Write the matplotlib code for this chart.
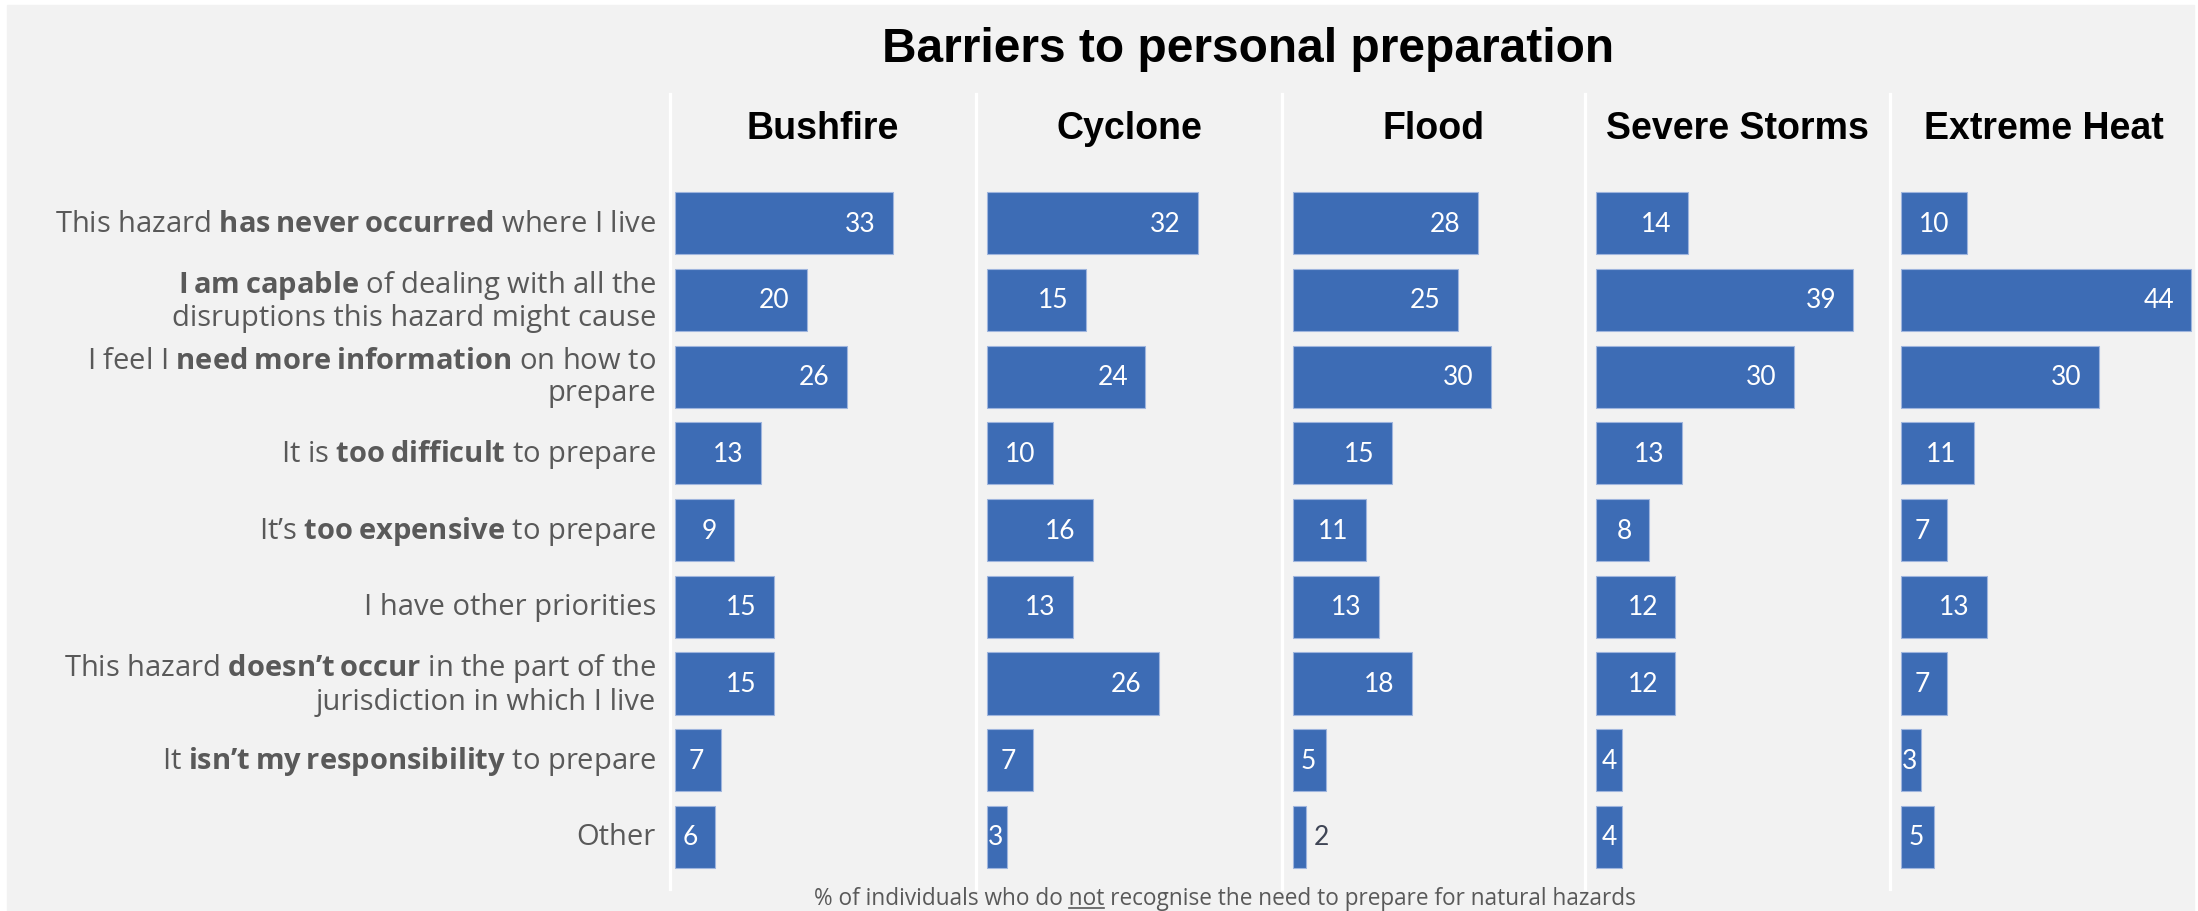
import matplotlib
matplotlib.use("Agg")
import matplotlib.pyplot as plt
from matplotlib.patches import Rectangle
from matplotlib.lines import Line2D

LABEL_FONT = "Open Sans"
plt.rcParams["mathtext.fontset"] = "custom"
plt.rcParams["mathtext.rm"] = LABEL_FONT
plt.rcParams["mathtext.it"] = LABEL_FONT + ":italic"
plt.rcParams["mathtext.bf"] = LABEL_FONT + ":bold"

# data
hazards = ["Bushfire", "Cyclone", "Flood", "Severe Storms", "Extreme Heat"]
barriers = [
    "This hazard **has never occurred** where I live",
    "**I am capable** of dealing with all the\ndisruptions this hazard might cause",
    "I feel I **need more information** on how to\nprepare",
    "It is **too difficult** to prepare",
    "It’s **too expensive** to prepare",
    "I have other priorities",
    "This hazard **doesn’t occur** in the part of the\njurisdiction in which I live",
    "It **isn’t my responsibility** to prepare",
    "Other",
]
bushfire = [33, 20, 26, 13, 9, 15, 15, 7, 6]
cyclone = [32, 15, 24, 10, 16, 13, 26, 7, 3]
flood = [28, 25, 30, 15, 11, 13, 18, 5, 2]
storms = [14, 39, 30, 13, 8, 12, 12, 4, 4]
heat = [10, 44, 30, 11, 7, 13, 7, 3, 5]
panels = [bushfire, cyclone, flood, storms, heat]

title = "Barriers to personal preparation"
footer_pre = "% of individuals who do "
footer_under = "not"
footer_post = " recognise the need to prepare for natural hazards"

# layout (pixels)
W, H = 2198, 912
seps = [670, 976, 1282, 1585, 1890, 2198]
bar_x0 = [675, 987, 1293, 1596, 1901]
ppu = 6.6
top, bottom = 95, 890
row0, step = 224.3, 76.7

BLUE = "#3D6CB5"
GREY = "#595959"


def to_math(s):
    out = []
    for line in s.split("\n"):
        parts = line.split("**")
        txt = ""
        for k, p in enumerate(parts):
            if k % 2 == 1:
                txt += r"$\mathbf{" + p.replace(" ", r"\:") + "}$"
            else:
                txt += p
        out.append(txt)
    return "\n".join(out)


fig = plt.figure(figsize=(W / 100, H / 100), dpi=100, facecolor="white")
fig.patches.append(Rectangle((7 / W, 0), (2194 - 7) / W, 1 - 6 / H,
                             transform=fig.transFigure, color="#F2F2F2", zorder=-10))

axes = []
for i, vals in enumerate(panels):
    ax = fig.add_axes([seps[i] / W, 1 - bottom / H, (seps[i + 1] - seps[i]) / W, (bottom - top) / H])
    ax.set_facecolor("none")
    xmin = -(bar_x0[i] - seps[i]) / ppu
    ax.set_xlim(xmin, xmin + (seps[i + 1] - seps[i]) / ppu)
    ax.set_ylim((bottom - row0) / step, -(row0 - top) / step)
    ax.barh(range(len(vals)), vals, height=0.81, color=BLUE, edgecolor="#9FB5DE", linewidth=0.8)
    for j, v in enumerate(vals):
        if v <= 2:
            ax.text(v + 1.2, j, str(v), ha="left", va="center", fontsize=19,
                    family="Lato", color="#3F4555")
        else:
            ax.text(max(v - 2.6, min(0.8 * v, 3.4)), j, str(v), ha="right", va="center",
                    fontsize=19, family="Lato", color="white", clip_on=True)
    for s in ["top", "right", "bottom"]:
        ax.spines[s].set_visible(False)
    ax.spines["left"].set_color("white")
    ax.spines["left"].set_linewidth(2.3)
    ax.set_xticks([])
    ax.set_yticks([])
    fig.text((seps[i] + seps[i + 1]) / 2 / W, 1 - 129 / H, hazards[i], ha="center", va="center",
             fontsize=27, fontweight="bold", family="Liberation Sans", color="black")
    axes.append(ax)

ax0 = axes[0]
for j, lab in enumerate(barriers):
    ax0.text(-(670 - 656) / (seps[1] - seps[0]), j, to_math(lab), transform=ax0.get_yaxis_transform(),
             ha="right", va="center", multialignment="right", fontsize=21, family=LABEL_FONT,
             color=GREY, linespacing=1.12)

fig.text(1248 / W, 1 - 49 / H, title, ha="center", va="center", fontsize=34.5,
         fontweight="bold", family="Liberation Sans", color="black")

# footer with underlined word
FS = 16.3
full = footer_pre + footer_under + footer_post
ft = fig.text(1225 / W, 1 - 899 / H, full, ha="center", va="center", fontsize=FS,
              family=LABEL_FONT, color=GREY)
fig.canvas.draw()
r = fig.canvas.get_renderer()
bb = ft.get_window_extent(r)


def width(s):
    t = fig.text(0, 0, s, fontsize=FS, family=LABEL_FONT)
    w = t.get_window_extent(r).width
    t.remove()
    return w


w1 = width((footer_pre + footer_under).rstrip())
wn = width(footer_under)
uy = bb.y0 + 2
fig.add_artist(Line2D([(bb.x0 + w1 - wn) / W, (bb.x0 + w1) / W], [uy / H, uy / H],
                      transform=fig.transFigure, color=GREY, lw=1.2))

fig.savefig("out.png", dpi=100, facecolor="white")
